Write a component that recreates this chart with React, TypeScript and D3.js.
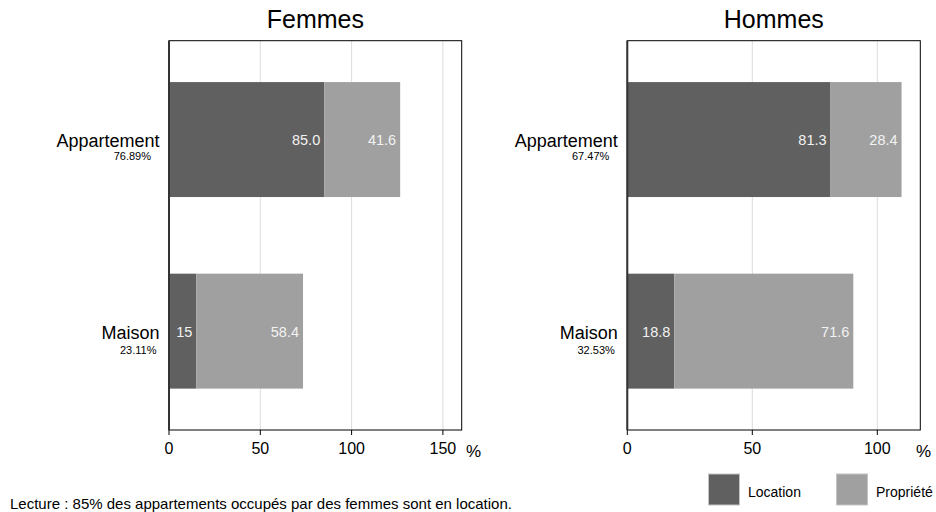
import React from "react";
import * as d3 from "d3";

const categories = ["Appartement", "Maison"];
const series = ["Location", "Propriété"];
const femmesLocation = [85.0, 15];
const femmesPropriete = [41.6, 58.4];
const hommesLocation = [81.3, 18.8];
const hommesPropriete = [28.4, 71.6];
const femmesShares = ["76.89%", "23.11%"];
const hommesShares = ["67.47%", "32.53%"];
const femmesLocLabels = ["85.0", "15"];
const femmesPropLabels = ["41.6", "58.4"];
const hommesLocLabels = ["81.3", "18.8"];
const hommesPropLabels = ["28.4", "71.6"];
const femmesTicks = [0, 50, 100, 150];
const hommesTicks = [0, 50, 100];
const panelTitles = ["Femmes", "Hommes"];
const note = "Lecture : 85% des appartements occupés par des femmes sont en location.";

const FONT = "'Liberation Sans', Arial, Helvetica, sans-serif";
const COLORS = ["#606060", "#a0a0a0"];
const TOP = 40.7;
const BOTTOM = 430;
const subOffsetX = [18, 12.5];
const subOffsetY = [20, 23];

type PanelProps = {
  title: string;
  x0: number;
  x1: number;
  max: number;
  loc: number[];
  prop: number[];
  locLabels: string[];
  propLabels: string[];
  shares: string[];
  ticks: number[];
  pctX: number;
};

function Panel(p: PanelProps) {
  const x = d3.scaleLinear().domain([0, p.max]).range([p.x0, p.x1]);
  const y = d3
    .scaleBand<string>()
    .domain(categories)
    .range([TOP, BOTTOM])
    .paddingInner(0.4)
    .paddingOuter(0.216);
  const bw = y.bandwidth();
  return (
    <g>
      <text
        x={(p.x0 + p.x1) / 2}
        y={28.3}
        textAnchor="middle"
        fontSize={25}
        fontFamily={FONT}
        fill="#000"
      >
        {p.title}
      </text>
      {p.ticks
        .filter((t) => t > 0)
        .map((t) => (
          <line
            key={"g" + t}
            x1={x(t)}
            x2={x(t)}
            y1={TOP}
            y2={BOTTOM}
            stroke="#dcdcdc"
            strokeWidth={1}
          />
        ))}
      {categories.map((c, i) => {
        const yy = y(c)!;
        const cy = yy + bw / 2;
        const xa = x(0);
        const xb = x(p.loc[i]);
        const xc = x(p.loc[i] + p.prop[i]);
        return (
          <g key={c}>
            <rect x={xa} y={yy} width={xb - xa} height={bw} fill={COLORS[0]} />
            <rect x={xb} y={yy} width={xc - xb} height={bw} fill={COLORS[1]} />
            <text
              x={xb - 4}
              y={cy + 5.5}
              textAnchor="end"
              fontSize={14.5}
              fontFamily={FONT}
              fill="#f2f2f2"
            >
              {p.locLabels[i]}
            </text>
            <text
              x={xc - 4}
              y={cy + 5.5}
              textAnchor="end"
              fontSize={14.5}
              fontFamily={FONT}
              fill="#f2f2f2"
            >
              {p.propLabels[i]}
            </text>
            <text
              x={p.x0 - 9.5}
              y={cy + 7.5}
              textAnchor="end"
              fontSize={18}
              fontFamily={FONT}
              fill="#000"
            >
              {c}
            </text>
            <text
              x={p.x0 - subOffsetX[i]}
              y={cy + subOffsetY[i]}
              textAnchor="end"
              fontSize={11}
              fontFamily={FONT}
              fill="#000"
            >
              {p.shares[i]}
            </text>
          </g>
        );
      })}
      <rect
        x={p.x0}
        y={TOP}
        width={p.x1 - p.x0}
        height={BOTTOM - TOP}
        fill="none"
        stroke="#000"
        strokeWidth={1}
      />
      <line x1={p.x0} x2={p.x0} y1={TOP} y2={BOTTOM} stroke="#333" strokeWidth={2} />
      {p.ticks.map((t) => (
        <g key={"t" + t}>
          <line x1={x(t)} x2={x(t)} y1={BOTTOM} y2={BOTTOM + 5} stroke="#000" strokeWidth={1} />
          <text
            x={x(t)}
            y={453.5}
            textAnchor="middle"
            fontSize={16}
            fontFamily={FONT}
            fill="#000"
          >
            {t}
          </text>
        </g>
      ))}
      <text x={p.pctX} y={456.5} fontSize={17} fontFamily={FONT} fill="#000">
        %
      </text>
    </g>
  );
}

export default function App() {
  const legendX = [708.5, 836.5];
  return (
    <svg
      width={936}
      height={512}
      style={{ position: "absolute", left: 0, top: 0, background: "#fff" }}
    >
      <rect x={0} y={0} width={936} height={512} fill="#fff" />
      <Panel
        title={panelTitles[0]}
        x0={169}
        x1={461.7}
        max={160.3}
        loc={femmesLocation}
        prop={femmesPropriete}
        locLabels={femmesLocLabels}
        propLabels={femmesPropLabels}
        shares={femmesShares}
        ticks={femmesTicks}
        pctX={466}
      />
      <Panel
        title={panelTitles[1]}
        x0={627.3}
        x1={920.3}
        max={117.2}
        loc={hommesLocation}
        prop={hommesPropriete}
        locLabels={hommesLocLabels}
        propLabels={hommesPropLabels}
        shares={hommesShares}
        ticks={hommesTicks}
        pctX={916}
      />
      {series.map((s, i) => (
        <g key={s}>
          <rect
            x={legendX[i]}
            y={474}
            width={31}
            height={31}
            fill={COLORS[i]}
            stroke="#c4c4c4"
            strokeWidth={1}
          />
          <text
            x={legendX[i] + 39.5}
            y={496.5}
            fontSize={14}
            fontFamily={FONT}
            fill="#000"
          >
            {s}
          </text>
        </g>
      ))}
      <text x={10} y={509} fontSize={15} fontFamily={FONT} fill="#000">
        {note}
      </text>
    </svg>
  );
}
